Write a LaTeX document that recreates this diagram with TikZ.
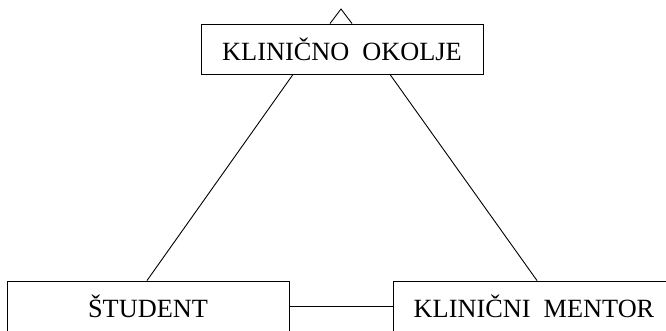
\documentclass[tikz,border=0pt]{standalone}
\usepackage{fontspec}
\setmainfont{Liberation Serif}
\usetikzlibrary{calc}
\begin{document}
\begin{tikzpicture}[x=1pt,y=-1pt,
  box/.style={draw=black,line width=0.9pt,minimum width=282pt,minimum height=50pt,inner sep=0pt,
    font=\fontsize{26.3pt}{30pt}\selectfont},
  conn/.style={draw=black,line width=0.9pt}]
\useasboundingbox (0,0) rectangle (666,330);
\clip (0,0) rectangle (666,330);
\node[box] (okolje) at (342,49) {KLINIČNO\ \ OKOLJE};
\node[box] (student) at (148,306) {ŠTUDENT};
\node[box] (mentor) at (534,306) {KLINIČNI\ \ MENTOR};
\coordinate (apex) at (341,9);
\draw[conn] ($(okolje.north)+(-12,0)$) -- (apex) -- ($(okolje.north)+(10,0)$);
\draw[conn] ($(okolje.south)+(-49,0)$) -- ($(student.north)+(-1,0)$);
\draw[conn] ($(okolje.south)+(48,0)$) -- ($(mentor.north)+(3,0)$);
\draw[conn] (student.east) -- (mentor.west);
\end{tikzpicture}
\end{document}
